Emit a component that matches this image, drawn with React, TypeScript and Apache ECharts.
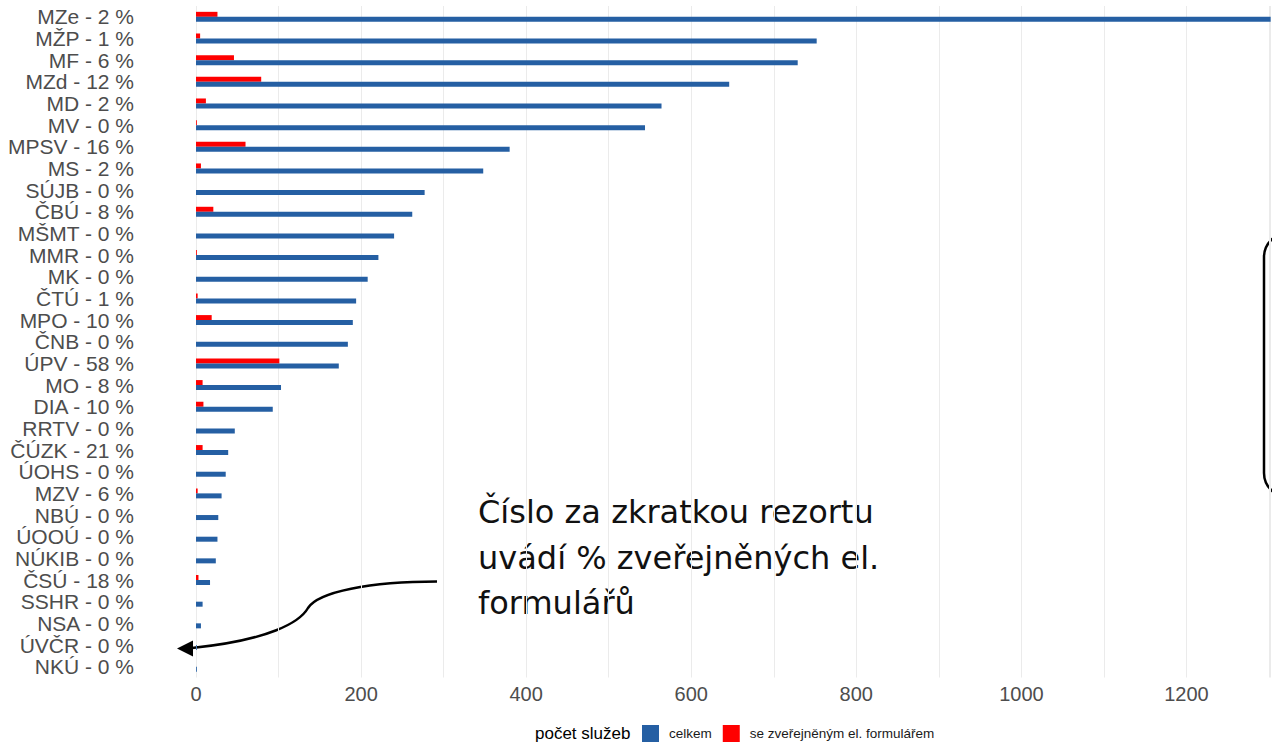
import React, { useEffect, useRef } from "react";
import * as echarts from "echarts";

const codes = ["MZe", "MŽP", "MF", "MZd", "MD", "MV", "MPSV", "MS", "SÚJB", "ČBÚ", "MŠMT", "MMR", "MK", "ČTÚ", "MPO", "ČNB", "ÚPV", "MO", "DIA", "RRTV", "ČÚZK", "ÚOHS", "MZV", "NBÚ", "ÚOOÚ", "NÚKIB", "ČSÚ", "SSHR", "NSA", "ÚVČR", "NKÚ"];
const pcts = [2, 1, 6, 12, 2, 0, 16, 2, 0, 8, 0, 0, 0, 1, 10, 0, 58, 8, 10, 0, 21, 0, 6, 0, 0, 0, 18, 0, 0, 0, 0];
const totalServices = [1330, 752, 729, 646, 564, 544, 380, 348, 277, 262, 240, 221, 208, 194, 190, 184, 173, 103, 93, 47, 39, 36, 31, 27, 26, 24, 17, 8, 6, 1, 1];
const publishedServices = [26, 5, 46, 79, 12, 1, 60, 6, 0, 21, 0, 1, 0, 2, 19, 0, 101, 8, 9, 0, 8, 0, 2, 0, 0, 0, 3, 0, 0, 0, 0];
const seriesNames = ["celkem", "se zveřejněným el. formulářem"];
const legendTitle = "počet služeb";
const noteLines = ["Číslo za zkratkou rezortu", "uvádí % zveřejněných el.", "formulářů"];
const xTicks = [0, 200, 400, 600, 800, 1000, 1200];

const categories = codes.map((c, i) => `${c} - ${pcts[i]} %`);

echarts.graphic.registerShape(
  "arrowCurve",
  echarts.graphic.extendPath(
    "M437 581.5 C370 581.5 318 592 308 608 C300 622 270 640 192 648",
    {}
  )
);

const FONT = "'Liberation Sans', Arial, sans-serif";
const HAND = "'DejaVu Sans ExtraLight', 'DejaVu Sans', sans-serif";

export default function App() {
  const ref = useRef<HTMLDivElement>(null);
  useEffect(() => {
    if (!ref.current) return;
    const chart = echarts.init(ref.current, undefined, { renderer: "svg" });
    chart.setOption({
      animation: false,
      backgroundColor: "#ffffff",
      textStyle: { fontFamily: FONT },
      grid: { left: 196, right: 0, top: 6, height: 671.5, containLabel: false },
      xAxis: {
        type: "value",
        min: 0,
        max: 1302,
        interval: 100,
        axisLine: { show: false },
        axisTick: { show: false },
        splitLine: { show: true, lineStyle: { color: "#ebebeb", width: 1 } },
        axisLabel: {
          fontSize: 20,
          color: "#4d4d4d",
          margin: 6,
          fontFamily: FONT,
          showMaxLabel: false,
          formatter: (v: number) => (xTicks.includes(v) ? String(v) : ""),
        },
      },
      yAxis: {
        type: "category",
        inverse: true,
        data: categories,
        axisLine: { show: false },
        axisTick: { show: false },
        splitLine: { show: false },
        axisLabel: { interval: 0, fontSize: 21, color: "#4d4d4d", margin: 62, fontFamily: FONT },
      },
      legend: {
        data: seriesNames,
        left: 642,
        top: 725,
        padding: 0,
        itemWidth: 17,
        itemHeight: 17,
        itemGap: 11,
        icon: "rect",
        selectedMode: false,
        textStyle: { fontSize: 13.5, color: "#1a1a1a", fontFamily: FONT, padding: [0, 0, 0, 5] },
      },
      series: [
        {
          name: seriesNames[1],
          type: "bar",
          data: publishedServices,
          barWidth: 5,
          barGap: "0%",
          itemStyle: { color: "#ff0000" },
        },
        {
          name: seriesNames[0],
          type: "bar",
          data: totalServices,
          barWidth: 5,
          barGap: "0%",
          itemStyle: { color: "#255fa3" },
        },
      ],
      graphic: [
        {
          type: "text",
          x: 535,
          y: 733,
          style: {
            text: legendTitle,
            fontSize: 17,
            fontFamily: FONT,
            fill: "#000",
            verticalAlign: "middle",
          },
        },
        ...noteLines.map((t, i) => ({
          type: "text",
          x: 478,
          y: 512 + i * 45.5,
          style: {
            text: t,
            fontSize: 32,
            fontFamily: HAND,
            fill: "#111",
            verticalAlign: "middle",
          },
        })),
        {
          type: "arrowCurve",
          x: 0,
          y: 0,
          style: { fill: null, stroke: "#000", lineWidth: 2.5 },
        },
        {
          type: "polygon",
          shape: { points: [[177, 648.5], [193, 640.5], [193, 656.5]] },
          style: { fill: "#000" },
        },
        {
          type: "rect",
          shape: { x: 1264, y: 233, width: 100, height: 264, r: 24 },
          style: { fill: null, stroke: "#000", lineWidth: 2.5 },
        },
      ],
    });
    return () => chart.dispose();
  }, []);
  return (
    <div
      ref={ref}
      style={{ position: "fixed", left: 0, top: 0, width: 1272, height: 742, background: "#fff" }}
    />
  );
}
